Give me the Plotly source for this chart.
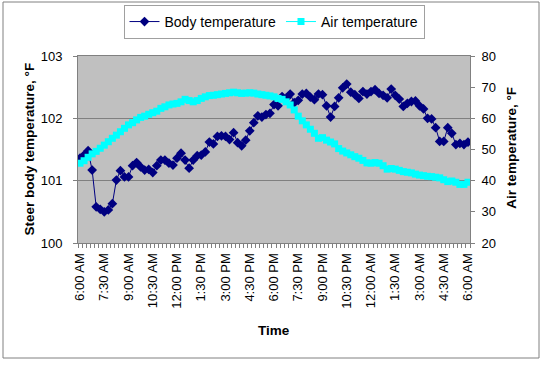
import plotly.graph_objects as go

# 15-minute readings from 6:00 AM to 6:00 AM next day (97 readings)
body_temp = [
    101.36, 101.41, 101.48, 101.17, 100.58, 100.54, 100.50, 100.53, 100.63, 101.01,
    101.16, 101.06, 101.06, 101.24, 101.29, 101.22, 101.17, 101.18, 101.13, 101.24,
    101.33, 101.33, 101.28, 101.25, 101.36, 101.44, 101.33, 101.20, 101.33, 101.40,
    101.41, 101.46, 101.62, 101.59, 101.71, 101.72, 101.71, 101.66, 101.77, 101.61,
    101.56, 101.65, 101.80, 101.93, 102.04, 102.02, 102.06, 102.08, 102.22, 102.20,
    102.35, 102.32, 102.39, 102.25, 102.29, 102.39, 102.40, 102.34, 102.30, 102.39,
    102.38, 102.20, 102.02, 102.19, 102.33, 102.49, 102.55, 102.42, 102.38, 102.32,
    102.43, 102.39, 102.43, 102.46, 102.40, 102.37, 102.33, 102.47, 102.37, 102.31,
    102.19, 102.24, 102.27, 102.28, 102.20, 102.15, 102.00, 101.99, 101.85, 101.63,
    101.63, 101.85, 101.76, 101.58, 101.60, 101.58, 101.62,
]
air_temp = [
    45.6, 46.4, 47.5, 48.6, 49.4, 50.4, 51.4, 52.5, 53.6, 54.6,
    55.7, 56.8, 57.9, 58.6, 59.5, 60.3, 60.7, 61.3, 61.8, 62.3,
    63.2, 63.7, 64.3, 64.6, 64.8, 65.3, 66.1, 65.7, 65.3, 65.7,
    66.4, 66.9, 67.3, 67.4, 67.6, 67.8, 68.0, 68.2, 68.4, 68.2,
    68.0, 68.1, 68.2, 68.1, 67.8, 67.6, 67.4, 67.2, 66.9, 66.4,
    66.1, 65.3, 64.3, 62.7, 60.7, 59.2, 57.9, 56.5, 55.2, 53.6,
    53.8, 53.0, 52.4, 51.8, 50.3, 49.5, 48.9, 48.3, 47.7, 47.2,
    46.5, 45.7, 45.6, 45.8, 45.6, 44.8, 43.7, 43.9, 43.7, 43.3,
    42.9, 42.7, 42.5, 42.1, 41.8, 41.6, 41.4, 41.3, 41.1, 40.9,
    40.3, 39.7, 39.9, 39.5, 38.8, 38.8, 39.5,
]
tick_labels = ["6:00 AM", "7:30 AM", "9:00 AM", "10:30 AM", "12:00 PM", "1:30 PM",
               "3:00 PM", "4:30 PM", "6:00 PM", "7:30 PM", "9:00 PM", "10:30 PM",
               "12:00 AM", "1:30 AM", "3:00 AM", "4:30 AM", "6:00 AM"]
label_every = 6  # one label per 1.5 h (6 readings)

n = len(body_temp)
x = list(range(n))
FONT = "Arial, Liberation Sans, sans-serif"
GRAY = "#808080"

fig = go.Figure()
fig.add_trace(go.Scatter(
    x=x, y=body_temp, name="Body temperature", mode="lines+markers",
    line=dict(color="#000080", width=1),
    marker=dict(symbol="diamond", size=7.5, color="#000080", line=dict(width=0)),
    yaxis="y"))
fig.add_trace(go.Scatter(
    x=x, y=air_temp, name="Air temperature", mode="lines+markers",
    line=dict(color="#00FFFF", width=1),
    marker=dict(symbol="square", size=7, color="#00FFFF", line=dict(width=0)),
    yaxis="y2"))

fig.update_layout(
    width=547, height=365, autosize=False,
    margin=dict(l=78, r=77, t=56, b=122, pad=0, autoexpand=False),
    paper_bgcolor="white", plot_bgcolor="#C0C0C0",
    font=dict(family=FONT, size=13, color="black"),
    showlegend=True, hovermode=False,
    legend=dict(orientation="h", x=0.5, xanchor="center", y=1.273, yanchor="top",
                bordercolor="#A0A0A0", borderwidth=1, bgcolor="white",
                font=dict(size=14, family=FONT), itemwidth=30, tracegroupgap=0),
    xaxis=dict(
        range=[-0.5, n - 0.5], tickmode="array", automargin=False,
        tickvals=x[::label_every], ticktext=tick_labels, tickangle=-90,
        ticks="", showgrid=False, zeroline=False,
        showline=True, linecolor=GRAY, linewidth=1, mirror=True,
        tickfont=dict(size=13), ticklabelstandoff=4,
        minor=dict(tickmode="array", tickvals=[i - 0.5 for i in range(n + 1)],
                   ticks="outside", ticklen=4, tickcolor=GRAY, tickwidth=1, showgrid=False),
    ),
    yaxis=dict(
        range=[100, 103], dtick=1, tick0=100, ticks="outside", ticklen=4, automargin=False,
        tickcolor=GRAY, showgrid=True, gridcolor=GRAY, gridwidth=1, zeroline=False,
        showline=True, linecolor=GRAY, linewidth=1, mirror=True,
        tickfont=dict(size=13), ticklabelstandoff=8,
    ),
    yaxis2=dict(
        range=[20, 80], dtick=10, tick0=20, overlaying="y", side="right", automargin=False,
        ticks="outside", ticklen=4, tickcolor=GRAY, showgrid=False, zeroline=False,
        showline=False, tickfont=dict(size=13), ticklabelstandoff=4,
    ),
    shapes=[dict(type="rect", xref="paper", yref="paper",
                 x0=(3 - 78) / 392, x1=(539 - 78) / 392,
                 y0=(243 - 358) / 187, y1=(243 - 2) / 187,
                 line=dict(color=GRAY, width=1), fillcolor="rgba(0,0,0,0)", layer="below")],
    annotations=[
        dict(text="<b>Steer body temperature, °F</b>", xref="paper", yref="paper",
             x=(29 - 78) / 392, y=0.5, textangle=-90, showarrow=False,
             xanchor="center", yanchor="middle", font=dict(size=13.5)),
        dict(text="<b>Air temperature, °F</b>", xref="paper", yref="paper",
             x=(512 - 78) / 392, y=0.51, textangle=-90, showarrow=False,
             xanchor="center", yanchor="middle", font=dict(size=13.5)),
        dict(text="<b>Time</b>", xref="paper", yref="paper",
             x=0.5, y=(243 - 330) / 187, showarrow=False,
             xanchor="center", yanchor="middle", font=dict(size=13.5)),
    ],
)

fig.write_html("out.html", config={"displayModeBar": False},
               post_script="document.body.style.margin='0px';")
